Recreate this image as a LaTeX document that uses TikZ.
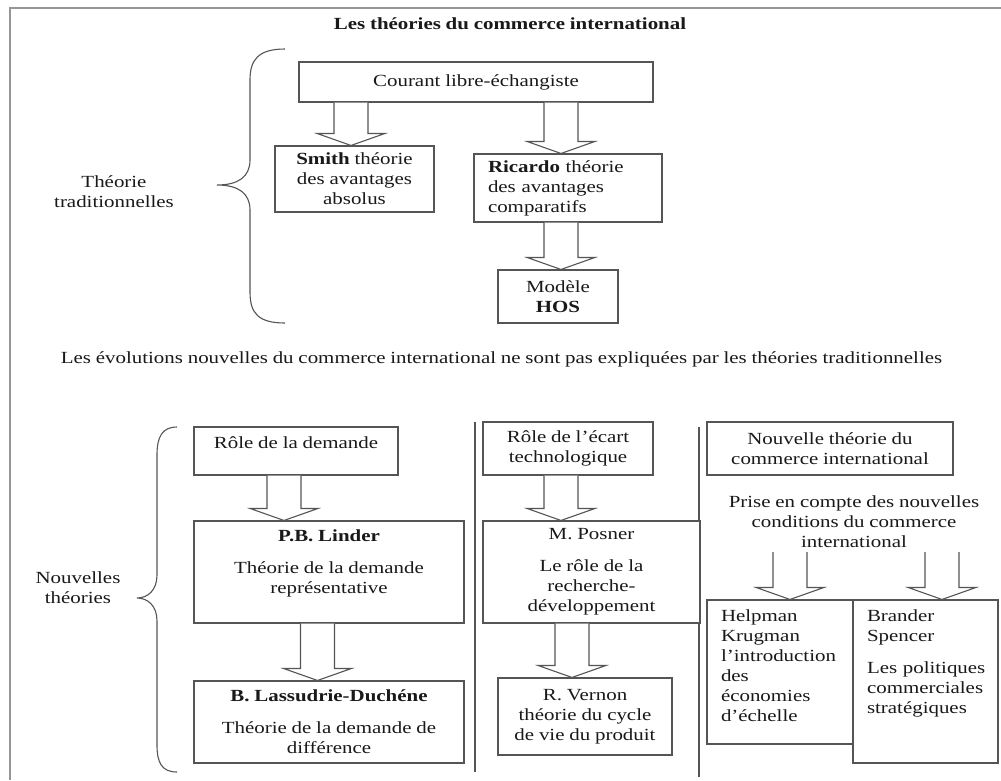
\documentclass[tikz,border=0pt]{standalone}
\usepackage{fontspec}
\setmainfont{Liberation Serif}[FakeStretch=1.23, WordSpace=0.92, BoldFeatures={FakeStretch=1.23}]
\usetikzlibrary{calc}
\pretolerance=10000
\definecolor{linegray}{RGB}{85,85,85}
\definecolor{framegray}{RGB}{150,150,150}
\definecolor{txt}{RGB}{25,25,25}
\newcommand\fs{\fontsize{17}{20}\selectfont}
\newcommand\blockarrow[3]{%
  \draw[barrow] let \p1=(#2.south), \p2=(#3.north) in
    (#1pt-17pt,\y1) -- (#1pt-17pt,\y2+12pt) -- (#1pt-34pt,\y2+12pt) -- (#1pt,\y2)
    -- (#1pt+34pt,\y2+12pt) -- (#1pt+17pt,\y2+12pt) -- (#1pt+17pt,\y1);}
\begin{document}
\begin{tikzpicture}[x=1pt,y=-1pt,
  box/.style={draw=linegray, line width=1.1pt, fill=white, inner sep=0pt, align=center, font=\fs, text=txt},
  lbox/.style={box, align=left, inner xsep=14pt},
  label text/.style={inner sep=0pt, align=center, font=\fs, text=txt},
  barrow/.style={draw=linegray, line width=1.1pt, fill=white, line join=miter},
  brace/.style={draw=linegray, line width=1.1pt},
  sep/.style={draw=linegray, line width=1.1pt},
  frame/.style={draw=framegray, line width=2pt}]
\useasboundingbox[fill=white] (0,0) rectangle (1001,780);
\coordinate (fr-tr) at (1001,8);
\coordinate (fr-tl) at (10,8);
\coordinate (fr-bl) at (10,780);
\draw[frame] (fr-tr) -- (fr-tl) -- (fr-bl);

% title
\node[label text, font=\fs\bfseries] (title) at (510,24) {Les théories du commerce international};

% traditional theories
\node[label text] (trad) at (114,192) {Théorie\\traditionnelles};
\draw[brace] (285,49) .. controls (258,49) and (250,60) .. (250,80) -- (250,160)
  .. controls (250,177) and (238,185) .. (217,185)
  .. controls (238,185) and (250,193) .. (250,210) -- (250,292)
  .. controls (250,313) and (258,323) .. (285,323);

\node[box, minimum width=354pt, minimum height=40pt] (courant) at (476,82) {Courant libre-échangiste};
\node[box, minimum width=159pt, minimum height=66pt] (smith) at (354.5,179) {\textbf{Smith} théorie\\des avantages\\absolus};
\node[lbox, text width=160pt, minimum height=68pt] (ricardo) at (568,188) {\mbox{\textbf{Ricardo} théorie}\\\mbox{des avantages}\\\mbox{comparatifs}};
\node[box, minimum width=120pt, minimum height=53pt] (hos) at (558,296.5) {Modèle\\\textbf{HOS}};

\blockarrow{351}{courant}{smith}
\blockarrow{561}{courant}{ricardo}
\blockarrow{561}{ricardo}{hos}

% middle sentence
\node[label text] (evol) at (501.5,359) {Les évolutions nouvelles du commerce international ne sont pas expliquées par les théories traditionnelles};

% new theories
\node[label text] (nouv) at (78,588) {Nouvelles\\théories};
\draw[brace] (177,427) .. controls (162,427) and (157,437) .. (157,455) -- (157,575)
  .. controls (157,590) and (148,598) .. (137,598)
  .. controls (148,598) and (157,606) .. (157,621) -- (157,745)
  .. controls (157,763) and (162,772) .. (177,772);

\coordinate (s1-top) at (475,422);
\coordinate (s1-bot) at (475,772);
\coordinate (s2-top) at (699,427);
\coordinate (s2-bot) at (699,777);
\draw[sep] (s1-top) -- (s1-bot);
\draw[sep] (s2-top) -- (s2-bot);

% column 1
\node[box, minimum width=204pt, minimum height=48pt] (demande) at (296,451) {Rôle de la demande\\[-4pt]\mbox{}};
\node[box, minimum width=270pt, minimum height=102pt] (linder) at (329,572) {\textbf{P.B. Linder}\\[12pt]Théorie de la demande\\représentative\\\mbox{}};
\node[box, minimum width=270pt, minimum height=82pt] (lassudrie) at (329,722) {\textbf{B. Lassudrie-Duchéne}\\[12pt]Théorie de la demande de\\différence};
\blockarrow{284}{demande}{linder}
\blockarrow{317.5}{linder}{lassudrie}

% column 2
\node[box, minimum width=170pt, minimum height=53pt] (ecart) at (568,448.5) {Rôle de l’écart\\technologique};
\node[box, minimum width=217pt, minimum height=102pt] (posner) at (591.5,572) {M. Posner\\[12pt]Le rôle de la\\recherche-\\développement};
\node[box, minimum width=174pt, minimum height=77pt] (vernon) at (585,716.5) {R. Vernon\\théorie du cycle\\de vie du produit};
\blockarrow{561}{ecart}{posner}
\blockarrow{572}{posner}{vernon}

% column 3
\node[box, minimum width=246pt, minimum height=53pt] (nouvelle) at (830,448.5) {Nouvelle théorie du\\commerce international};
\node[label text, inner ysep=4pt] (prise) at (854,522) {Prise en compte des nouvelles\\conditions du commerce\\international};
\node[lbox, text width=118pt, minimum height=144pt] (helpman) at (780,672) {\mbox{Helpman}\\\mbox{Krugman}\\\mbox{l’introduction}\\\mbox{des}\\\mbox{économies}\\\mbox{d’échelle}\\[-8pt]\mbox{}};
\node[lbox, text width=117pt, minimum height=163pt] (brander) at (925.5,681.5) {\mbox{Brander}\\\mbox{Spencer}\\[12pt]\mbox{Les politiques}\\\mbox{commerciales}\\\mbox{stratégiques}\\[20pt]\mbox{}};
\blockarrow{790}{prise}{helpman}
\blockarrow{942}{prise}{brander}
\end{tikzpicture}
\end{document}
